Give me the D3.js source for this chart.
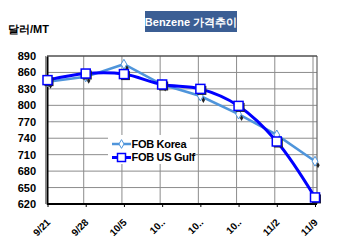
<!DOCTYPE html>
<html>
<head>
<meta charset="utf-8">
<script src="https://cdn.jsdelivr.net/npm/d3@7"></script>
<style>
body { margin: 0; background: #fff; }
text { font-family: Arial, "Liberation Sans", sans-serif; font-weight: bold; }
</style>
</head>
<body>
<div id="chart"></div>
<script>
var dates = ["9/21", "9/28", "10/5", "10..", "10..", "10..", "11/2", "11/9"];
var fobKorea = [843, 852, 875, 838, 817, 784, 746, 698];
var fobUsGulf = [846, 858, 857, 838, 830, 799, 734, 632];
var yTicks = [620, 650, 680, 710, 740, 770, 800, 830, 860, 890];

var W = 350, H = 245;
var plotLeft = 47, plotRight = 317, plotTop = 56, plotBottom = 204;

var svg = d3.select("#chart").append("svg")
    .attr("width", W)
    .attr("height", H);

var x = d3.scalePoint()
    .domain(d3.range(dates.length))
    .range([plotLeft + 0.5, 315]);

var y = d3.scaleLinear()
    .domain([620, 890])
    .range([plotBottom, plotTop]);

// grid
svg.append("g").selectAll("line")
    .data(yTicks)
    .enter().append("line")
    .attr("x1", plotLeft).attr("x2", plotRight)
    .attr("y1", function(d) { return y(d); })
    .attr("y2", function(d) { return y(d); })
    .attr("stroke", "#8c8c8c")
    .attr("stroke-width", 1);

svg.append("g").selectAll("line")
    .data(d3.range(dates.length))
    .enter().append("line")
    .attr("x1", function(d) { return x(d) - 2; })
    .attr("x2", function(d) { return x(d) - 2; })
    .attr("y1", plotTop).attr("y2", plotBottom)
    .attr("stroke", "#8c8c8c")
    .attr("stroke-width", 1);

svg.append("line")
    .attr("x1", plotRight).attr("x2", plotRight)
    .attr("y1", plotTop).attr("y2", plotBottom)
    .attr("stroke", "#666").attr("stroke-width", 1.2);
svg.append("line")
    .attr("x1", plotLeft).attr("x2", plotRight)
    .attr("y1", plotTop).attr("y2", plotTop)
    .attr("stroke", "#333").attr("stroke-width", 1.2);

// legend background hides the grid under it
svg.append("rect")
    .attr("x", 108).attr("y", 135)
    .attr("width", 82).attr("height", 29)
    .attr("fill", "#fff");

// axes
var yAxis = svg.append("g")
    .attr("transform", "translate(" + plotLeft + ",0)")
    .call(d3.axisLeft(y).tickValues(yTicks).tickSize(0).tickPadding(11));
yAxis.select(".domain").attr("stroke", "#000").attr("stroke-width", 2);
yAxis.selectAll("text").attr("font-size", 11).attr("fill", "#000");

var xAxis = svg.append("g")
    .attr("transform", "translate(0," + plotBottom + ")")
    .call(d3.axisBottom(x).tickSize(3).tickFormat(function(i) { return dates[i]; }));
xAxis.select(".domain").attr("stroke", "#000").attr("stroke-width", 2)
    .attr("d", "M" + plotLeft + ",0H" + plotRight);
xAxis.selectAll("text")
    .attr("font-size", 10).attr("fill", "#000")
    .attr("text-anchor", "end")
    .attr("dy", null).attr("y", 0)
    .attr("transform", "translate(3,19) rotate(-45)");

// series
var line = d3.line()
    .x(function(d, i) { return x(i); })
    .y(function(d) { return y(d); });

var curve = d3.line()
    .x(function(d, i) { return x(i); })
    .y(function(d) { return y(d); })
    .curve(d3.curveCatmullRom.alpha(0.5));

svg.append("path")
    .datum(fobKorea)
    .attr("d", line)
    .attr("fill", "none")
    .attr("stroke", "#4f95db")
    .attr("stroke-width", 2.5);

svg.append("path")
    .datum(fobUsGulf)
    .attr("d", curve)
    .attr("fill", "none")
    .attr("stroke", "#0000ff")
    .attr("stroke-width", 3);

// marker shadows (small dark tick down-right of each diamond)
svg.append("g").selectAll("path")
    .data(fobKorea)
    .enter().append("path")
    .attr("d", d3.symbol().type(d3.symbolDiamond).size(10))
    .attr("transform", function(d, i) { return "translate(" + (x(i) + 3) + "," + (y(d) + 4) + ")"; })
    .attr("fill", "#222");

svg.append("g").selectAll("path")
    .data(fobKorea)
    .enter().append("path")
    .attr("d", d3.symbol().type(d3.symbolDiamond).size(28))
    .attr("transform", function(d, i) { return "translate(" + x(i) + "," + y(d) + ")"; })
    .attr("fill", "#fff")
    .attr("stroke", "#4f95db")
    .attr("stroke-width", 1);

svg.append("g").selectAll("rect")
    .data(fobUsGulf)
    .enter().append("rect")
    .attr("x", function(d, i) { return x(i) - 3; })
    .attr("y", function(d) { return y(d) - 3; })
    .attr("width", 9).attr("height", 9)
    .attr("fill", "#222");

svg.append("g").selectAll("rect")
    .data(fobUsGulf)
    .enter().append("rect")
    .attr("x", function(d, i) { return x(i) - 4.5; })
    .attr("y", function(d) { return y(d) - 4.5; })
    .attr("width", 9).attr("height", 9)
    .attr("fill", "#fff")
    .attr("stroke", "#0000ff")
    .attr("stroke-width", 1.5);

// legend
var legend = [
    { name: "FOB Korea", color: "#4f95db", w: 2.5, y: 144 },
    { name: "FOB US Gulf", color: "#0000ff", w: 3, y: 157.5 }
];
var lg = svg.append("g").selectAll("g")
    .data(legend)
    .enter().append("g")
    .attr("transform", function(d) { return "translate(112," + d.y + ")"; });
lg.append("line")
    .attr("x1", 0).attr("x2", 19)
    .attr("stroke", function(d) { return d.color; })
    .attr("stroke-width", function(d) { return d.w; });
lg.filter(function(d, i) { return i === 0; }).append("path")
    .attr("d", d3.symbol().type(d3.symbolDiamond).size(22))
    .attr("transform", "translate(9.5,0)")
    .attr("fill", "#fff").attr("stroke", "#4f95db");
lg.filter(function(d, i) { return i === 1; }).append("rect")
    .attr("x", 5.5).attr("y", -4).attr("width", 8).attr("height", 8)
    .attr("fill", "#fff").attr("stroke", "#0000ff").attr("stroke-width", 1.5);
lg.append("text")
    .attr("x", 19.5).attr("dy", "0.35em")
    .attr("font-size", 11)
    .attr("letter-spacing", -0.3)
    .attr("fill", "#000")
    .text(function(d) { return d.name; });

// titles
svg.append("rect")
    .attr("x", 145).attr("y", 11)
    .attr("width", 92).attr("height", 21)
    .attr("fill", "#3b5e94");
svg.append("text")
    .attr("x", 191).attr("y", 22)
    .attr("dy", "0.35em")
    .attr("text-anchor", "middle")
    .attr("font-size", 11)
    .attr("fill", "#fff")
    .text("Benzene 가격추이");

svg.append("text")
    .attr("x", 8).attr("y", 29)
    .attr("dy", "0.35em")
    .attr("font-size", 11)
    .attr("fill", "#000")
    .text("달러/MT");
</script>
</body>
</html>
